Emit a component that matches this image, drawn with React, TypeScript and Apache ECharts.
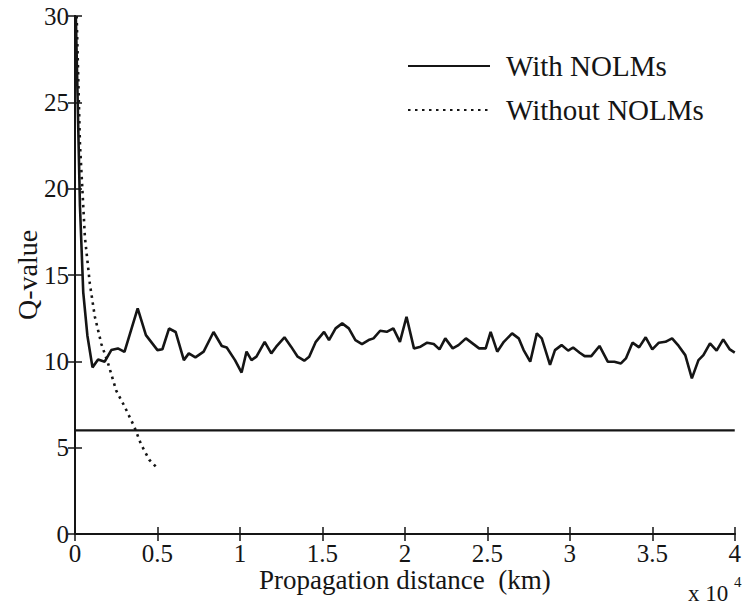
import React, { useEffect, useRef } from "react";
import * as echarts from "echarts";

const withX = [0.005,0.03,0.05,0.075,0.106,0.14,0.18,0.22,0.26,0.30,0.38,0.43,0.50,0.53,0.57,0.61,0.66,0.69,0.73,0.78,0.84,0.89,0.92,0.97,1.01,1.04,1.07,1.10,1.15,1.19,1.22,1.27,1.31,1.35,1.39,1.42,1.46,1.51,1.54,1.58,1.62,1.66,1.70,1.74,1.78,1.81,1.85,1.89,1.93,1.97,2.01,2.055,2.095,2.135,2.175,2.21,2.245,2.29,2.325,2.37,2.41,2.45,2.49,2.52,2.56,2.60,2.65,2.69,2.72,2.76,2.80,2.83,2.88,2.91,2.95,2.99,3.02,3.06,3.09,3.13,3.18,3.23,3.27,3.31,3.34,3.38,3.42,3.46,3.50,3.54,3.58,3.62,3.66,3.70,3.74,3.78,3.81,3.85,3.89,3.93,3.97,4.0];
const withY = [30,19,14,11.5,9.65,10.1,9.98,10.65,10.75,10.55,13.07,11.52,10.65,10.7,11.9,11.7,10.07,10.46,10.23,10.56,11.7,10.89,10.8,10.07,9.35,10.56,10.07,10.27,11.13,10.46,10.85,11.39,10.85,10.27,10.04,10.27,11.13,11.71,11.23,11.91,12.2,11.91,11.23,11.0,11.23,11.33,11.77,11.71,11.91,11.13,12.58,10.75,10.85,11.08,11.0,10.69,11.33,10.75,10.94,11.33,11.04,10.75,10.75,11.71,10.56,11.13,11.62,11.33,10.65,9.98,11.62,11.33,9.79,10.65,10.94,10.62,10.8,10.5,10.3,10.3,10.89,9.98,9.98,9.88,10.17,11.08,10.81,11.39,10.69,11.08,11.13,11.33,10.89,10.36,9.01,10.07,10.36,11.04,10.62,11.27,10.69,10.5];

const withoutX = [0.01,0.03,0.06,0.09,0.12,0.16,0.2,0.25,0.3,0.36,0.4,0.45,0.49];
const withoutY = [30,22.6,17.2,14.5,12.6,11.0,9.9,8.3,7.4,6.2,5.2,4.3,3.9];

const thresholdX = [0, 4];
const thresholdY = [6, 6];

const xTicks = { min: 0, max: 4, interval: 0.5 };
const yTicks = { min: 0, max: 30, interval: 5 };

const FONT = "Liberation Serif";
const INK = "#151515";

export default function App() {
  const ref = useRef<HTMLDivElement>(null);
  useEffect(() => {
    document.body.style.margin = "0";
    const chart = echarts.init(ref.current!, null, { renderer: "svg" });
    const zip = (xs: number[], ys: number[]) => xs.map((x, i) => [x, ys[i]]);
    const axisLine = { lineStyle: { color: INK, width: 2 } };
    const tick = { inside: true, length: 7, lineStyle: { color: INK, width: 1.5 } };
    chart.setOption({
      animation: false,
      backgroundColor: "#ffffff",
      textStyle: { fontFamily: FONT, color: INK },
      grid: { left: 75, right: 4, top: 16, bottom: 72, containLabel: false },
      legend: {
        data: ["With NOLMs", "Without NOLMs"],
        orient: "vertical",
        left: 402,
        top: 46,
        itemWidth: 82,
        itemHeight: 16,
        itemGap: 14,
        itemStyle: { opacity: 0 },
        textStyle: { fontFamily: FONT, fontSize: 29, color: INK, lineHeight: 30, padding: [0, 0, 0, 11] },
        selectedMode: false,
      },
      xAxis: [
        {
          type: "value", position: "bottom", ...xTicks,
          name: "Propagation distance  (km)", nameLocation: "middle", nameGap: 46,
          nameMoveOverlap: false,
          nameTextStyle: { fontFamily: FONT, fontSize: 27, color: INK, verticalAlign: "middle", lineHeight: 27 },
          axisLine, axisTick: tick, splitLine: { show: false },
          axisLabel: { fontFamily: FONT, fontSize: 25, color: INK, margin: 7, lineHeight: 24 },
        },
        {
          type: "value", position: "top", ...xTicks,
          axisLine, axisTick: tick, splitLine: { show: false }, axisLabel: { show: false },
        },
      ],
      yAxis: [
        {
          type: "value", position: "left", ...yTicks,
          name: "Q-value", nameLocation: "middle", nameGap: 34,
          nameMoveOverlap: false,
          nameTextStyle: { fontFamily: FONT, fontSize: 28, color: INK },
          axisLine, axisTick: tick, splitLine: { show: false },
          axisLabel: { fontFamily: FONT, fontSize: 25, color: INK, margin: 6 },
        },
        {
          type: "value", position: "right", ...yTicks,
          axisLine, axisTick: tick, splitLine: { show: false }, axisLabel: { show: false },
        },
      ],
      series: [
        {
          name: "With NOLMs", type: "line", symbol: "none",
          data: zip(withX, withY),
          lineStyle: { color: INK, width: 2.6, type: "solid" },
          itemStyle: { color: INK },
        },
        {
          name: "Without NOLMs", type: "line", symbol: "none",
          data: zip(withoutX, withoutY),
          lineStyle: { color: INK, width: 2.6, type: [2.5, 4.5] },
          itemStyle: { color: INK },
        },
        {
          name: "threshold", type: "line", symbol: "none",
          data: zip(thresholdX, thresholdY),
          lineStyle: { color: INK, width: 2.2 },
          itemStyle: { color: INK },
        },
      ],
      graphic: [
        { type: "text", left: 688, top: 582, style: { text: "x 10", fontFamily: FONT, fontSize: 23, fill: INK } },
        { type: "text", left: 734, top: 574, style: { text: "4", fontFamily: FONT, fontSize: 15, fill: INK } },
      ],
    });
    return () => chart.dispose();
  }, []);
  return <div ref={ref} style={{ width: 744, height: 606 }} />;
}
